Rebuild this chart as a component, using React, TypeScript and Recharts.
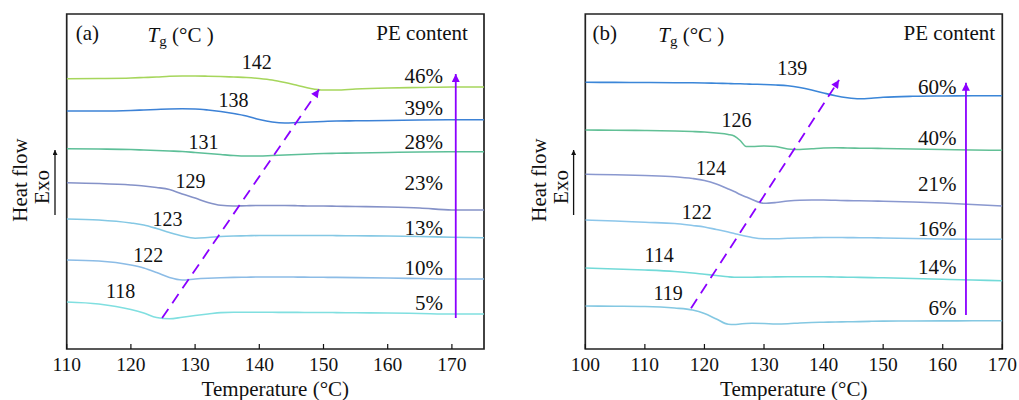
import React from 'react';
import { LineChart, Line, XAxis, YAxis, ReferenceArea, ReferenceDot, ReferenceLine } from 'recharts';

// panel (a): PE content series, heat flow in arbitrary units (exo up, stacked)
const tempA = [110, 115, 120, 122, 124, 126, 128, 130, 132, 134, 136, 138, 140, 142, 144, 146, 148, 150, 152, 155, 160, 165, 170, 175];
const a46 = [270.3, 270.5, 271, 271.5, 272, 272.7, 273, 273, 272.8, 272.5, 272, 271.5, 270.5, 269, 266.5, 263.5, 260.5, 259, 259, 260, 261, 261.5, 262, 262];
const a39 = [238, 238, 238.5, 239, 239.5, 240, 240.2, 240, 239, 237.5, 235.5, 233, 229.5, 227, 226, 226.5, 227, 227.5, 228, 228.2, 228.5, 229, 229.2, 229.3];
const a28 = [200.3, 200, 199.5, 199, 198.5, 198, 197.5, 196.5, 195.5, 194.5, 193.5, 193, 193, 193.5, 194, 194.5, 195, 195.5, 195.7, 196, 196.5, 197, 197.2, 197.3];
const a23 = [166.3, 165.5, 164, 163, 161.5, 159.5, 155, 151, 146.5, 143.7, 143, 143.3, 143.5, 143.5, 143.5, 143.3, 143, 143, 142.8, 142.5, 142, 141, 139, 139];
const a13 = [130, 129, 126, 124, 120.5, 116.5, 113, 110.8, 111.5, 112.5, 113, 113.2, 113.5, 113.5, 113.5, 113.5, 113.5, 113.5, 113.4, 113.2, 113, 112.5, 111.8, 111.3];
const a10 = [89, 88, 84, 81, 76.5, 71.5, 69, 70, 70.7, 71.2, 71.6, 71.8, 72, 72, 72, 71.9, 71.8, 71.7, 71.6, 71.4, 71, 70.5, 70, 70];
const a5 = [47, 45, 39.5, 36, 31.5, 30.2, 31.8, 33.5, 35, 36.4, 36.7, 36.7, 36.7, 36.7, 36.6, 36.6, 36.5, 36.5, 36.4, 36.2, 36, 35.5, 35, 35];

// panel (b)
const tempB = [100, 105, 110, 115, 118, 120, 122, 124, 125, 126, 127, 128, 130, 132, 134, 136, 138, 140, 142, 144, 146, 148, 150, 155, 160, 165, 170];
const b60 = [266.7, 266.6, 266.5, 266.3, 266.2, 266, 265.8, 265.5, 265.3, 265.2, 265, 264.8, 264.5, 264, 263.2, 261.5, 259, 256, 253.2, 251.2, 250.2, 250.7, 251.7, 252.7, 253, 253.2, 253.3];
const b40 = [219, 218.8, 218.5, 218, 217.5, 217, 216, 214.5, 213, 208.5, 202.5, 202.5, 203, 202.5, 200, 199.5, 200.2, 201, 201.3, 201, 200.8, 200.7, 200.5, 200, 199.5, 199, 198.7];
const b21 = [174.7, 174.2, 173.5, 172.3, 170.5, 168.5, 165, 160, 157.5, 154.5, 152, 149.5, 145.7, 146.5, 148, 148.8, 149, 149, 148.7, 148.4, 148.2, 148, 147.8, 147, 146, 144.5, 143];
const b16 = [129, 128, 126.7, 125.5, 123.5, 122, 119.5, 117, 115.5, 114, 112.7, 111.5, 110.3, 110.3, 110.7, 111, 111.3, 111.5, 111.5, 111.4, 111.3, 111.2, 111, 110.5, 110, 109.8, 109.7];
const b14 = [81, 80, 79, 77.5, 76, 74.7, 73.5, 72.2, 71.8, 71.7, 71.7, 71.8, 72, 72.1, 72.2, 72.3, 72.3, 72.2, 72, 71.8, 71.6, 71.4, 71.2, 70.5, 69.7, 69, 68.3];
const b6 = [43, 42.8, 42.5, 41, 39, 35.5, 30, 24.7, 24.5, 25, 25.5, 25.7, 25.5, 25, 25.3, 26, 26.5, 26.8, 27, 27.2, 27.4, 27.7, 27.9, 28, 28.1, 28.2, 28.3];

// Tg labels [temp, heat flow, text], content labels [heat flow, text]
const tgA: [number, number, string][] = [[139.6, 287, '142'], [136, 249, '138'], [131.3, 207, '131'], [129.3, 168, '129'], [125.7, 130, '123'], [122.7, 94, '122'], [118.4, 58, '118']];
const pctA: [number, string][] = [[273, '46%'], [241, '39%'], [207.3, '28%'], [166, '23%'], [121.3, '13%'], [80.7, '10%'], [46.3, '5%']];
const tgB: [number, number, string][] = [[134.75, 280.7, '139'], [125.4, 229, '126'], [121.1, 180.7, '124'], [118.7, 137.3, '122'], [112.4, 94, '114'], [113.9, 56.3, '119']];
const pctB: [number, string][] = [[261.7, '60%'], [211.3, '40%'], [165, '21%'], [119.7, '16%'], [82.3, '14%'], [40.7, '6%']];

const ticksA = [110, 120, 130, 140, 150, 160, 170];
const ticksB = [100, 110, 120, 130, 140, 150, 160, 170];

const rowsA = tempA.map((t, i) => ({ t, s46: a46[i], s39: a39[i], s28: a28[i], s23: a23[i], s13: a13[i], s10: a10[i], s5: a5[i] }));
const rowsB = tempB.map((t, i) => ({ t, s60: b60[i], s40: b40[i], s21: b21[i], s16: b16[i], s14: b14[i], s6: b6[i] }));

const seriesA = [
  { key: 's46', color: '#a6d65c' },
  { key: 's39', color: '#3d82d6' },
  { key: 's28', color: '#5dbf98' },
  { key: 's23', color: '#8592c8' },
  { key: 's13', color: '#84c8e4' },
  { key: 's10', color: '#8cbce6' },
  { key: 's5', color: '#80dfe0' },
];
const seriesB = [
  { key: 's60', color: '#3b86d8' },
  { key: 's40', color: '#62c096' },
  { key: 's21', color: '#8a98cf' },
  { key: 's16', color: '#8cc6ea' },
  { key: 's14', color: '#72dad8' },
  { key: 's6', color: '#84c8e2' },
];

const FONT = '"Liberation Serif", "Times New Roman", serif';
const VIOLET = '#8a00ff';
const YMAX = 335;

const note = (k: string, x: number, y: number, content: React.ReactNode, anchor: 'start' | 'middle' | 'end' = 'middle', size = 20) => (
  <ReferenceDot
    key={k}
    x={x}
    y={y}
    r={0}
    ifOverflow="visible"
    shape={(p: any) => (
      <text x={p.cx} y={p.cy} textAnchor={anchor} dominantBaseline="central" fontFamily={FONT} fontSize={size} fill="#111">
        {content}
      </text>
    )}
  />
);

const tgTitle = (
  <>
    <tspan fontStyle="italic">T</tspan>
    <tspan fontSize={15} dy={6}>g</tspan>
    <tspan dy={-6}> (°C )</tspan>
  </>
);

const arrow = (k: string, x1: number, y1: number, x2: number, y2: number, dashed: boolean, marker: string) => (
  <ReferenceLine
    key={k}
    segment={[{ x: x1, y: y1 }, { x: x2, y: y2 }]}
    ifOverflow="visible"
    shape={(p: any) => (
      <line x1={p.x1} y1={p.y1} x2={p.x2} y2={p.y2} stroke={VIOLET} strokeWidth={1.8}
        strokeDasharray={dashed ? '11 7' : undefined} markerEnd={`url(#${marker})`} />
    )}
  />
);

type PanelProps = {
  rows: any[];
  series: { key: string; color: string }[];
  domain: [number, number];
  ticks: number[];
  width: number;
  left: number;
  right: number;
  tag: string;
  tg: [number, number, string][];
  pct: [number, string][];
  pctX: number;
  headX: [number, number, number];
  vArrow: [number, number, number];
  dArrow: [number, number, number, number];
};

const Panel = (p: PanelProps) => (
  <LineChart width={p.width} height={400} data={p.rows} margin={{ top: 14, right: p.right, bottom: 0, left: p.left }}>
    <XAxis
      dataKey="t"
      type="number"
      domain={p.domain}
      ticks={p.ticks}
      allowDataOverflow
      axisLine={false}
      tickLine={{ stroke: '#111', strokeWidth: 1.2 }}
      tickSize={-5}
      tickMargin={13}
      height={51}
      tick={{ fill: '#111', fontSize: 19.5, fontFamily: FONT }}
      label={{ value: 'Temperature (°C)', position: 'insideBottom', offset: 4, fill: '#111', fontSize: 21, fontFamily: FONT }}
    />
    <YAxis type="number" domain={[0, YMAX]} hide allowDataOverflow />
    {p.series.map((s) => (
      <Line key={s.key} dataKey={s.key} type="monotone" stroke={s.color} strokeWidth={1.6} dot={false} isAnimationActive={false} />
    ))}
    {p.tg.map(([x, y, t], i) => note(`tg${i}`, x, y, t))}
    {p.pct.map(([y, t], i) => note(`pc${i}`, p.pctX, y, t, 'end', 21))}
    {note('tag', p.headX[0], 316, p.tag, 'start', 21)}
    {note('tgt', p.headX[1], 314, tgTitle, 'start', 21)}
    {note('pe', p.headX[2], 316, 'PE content', 'end', 21)}
    {arrow('va', p.vArrow[0], p.vArrow[1], p.vArrow[0], p.vArrow[2], false, 'headV')}
    {arrow('da', p.dArrow[0], p.dArrow[1], p.dArrow[2], p.dArrow[3], true, 'headV')}
    <ReferenceArea x1={p.domain[0]} x2={p.domain[1]} y1={0} y2={YMAX} fill="none" stroke="#222" strokeWidth={1.7} ifOverflow="visible" />
  </LineChart>
);

const YTitle = ({ x }: { x: number }) => (
  <g fontFamily={FONT} fontSize={21} fill="#111">
    <text x={x + 20} y={180} textAnchor="middle" dominantBaseline="central" transform={`rotate(-90 ${x + 20} 180)`}>Heat flow</text>
    <text x={x + 42} y={187} textAnchor="middle" dominantBaseline="central" transform={`rotate(-90 ${x + 42} 187)`}>Exo</text>
    <line x1={x + 55} y1={215} x2={x + 55} y2={150} stroke="#111" strokeWidth={1.3} markerEnd="url(#headK)" />
  </g>
);

export default function App() {
  return (
    <div style={{ position: 'absolute', left: 0, top: 0, width: 1019, height: 400, background: '#fff' }}>
      <div style={{ position: 'absolute', left: 0, top: 0 }}>
        <Panel rows={rowsA} series={seriesA} domain={[110, 175]} ticks={ticksA} width={510} left={66.7} right={26}
          tag="(a)" tg={tgA} pct={pctA} pctX={168.6} headX={[111.4, 122.6, 172.5]}
          vArrow={[170.6, 31, 275]} dArrow={[124.86, 31, 149.3, 259.5]} />
      </div>
      <div style={{ position: 'absolute', left: 510, top: 0 }}>
        <Panel rows={rowsB} series={seriesB} domain={[100, 170]} ticks={ticksB} width={509} left={75.3} right={16.7}
          tag="(b)" tg={tgB} pct={pctB} pctX={162.3} headX={[101.2, 112.25, 168.8]}
          vArrow={[163.9, 34, 266.3]} dArrow={[117.75, 40.7, 142.6, 269]} />
      </div>
      <svg width={1019} height={400} style={{ position: 'absolute', left: 0, top: 0, pointerEvents: 'none' }}>
        <defs>
          <marker id="headV" viewBox="0 0 10 10" refX="10" refY="5" markerWidth="11" markerHeight="8" markerUnits="userSpaceOnUse" orient="auto">
            <path d="M0,0 L10,5 L0,10 z" fill={VIOLET} />
          </marker>
          <marker id="headK" viewBox="0 0 10 10" refX="10" refY="5" markerWidth="8" markerHeight="5" markerUnits="userSpaceOnUse" orient="auto">
            <path d="M0,0 L10,5 L0,10 z" fill="#111" />
          </marker>
        </defs>
        <YTitle x={0} />
        <YTitle x={518.6} />
      </svg>
    </div>
  );
}
